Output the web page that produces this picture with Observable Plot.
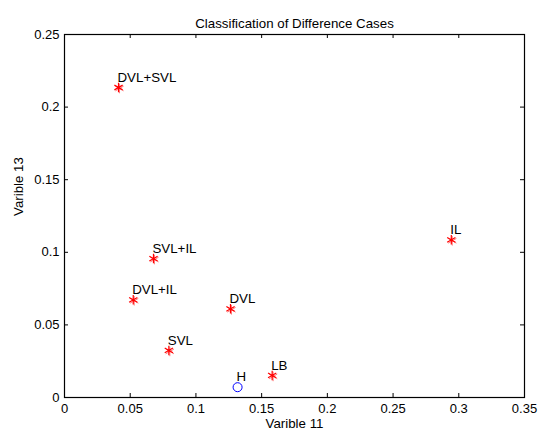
<!DOCTYPE html>
<html>
<head>
<meta charset="utf-8">
<script src="https://cdn.jsdelivr.net/npm/d3@7"></script>
<script src="https://cdn.jsdelivr.net/npm/@observablehq/plot@0.6"></script>
<style>
  html, body { margin: 0; padding: 0; background: #fff; }
</style>
</head>
<body>
<div id="chart"></div>
<script>
const labels = ["DVL+SVL", "SVL+IL", "DVL+IL", "DVL", "SVL", "LB", "IL", "H"];
const var11  = [0.0411, 0.0677, 0.0523, 0.1263, 0.0794, 0.1580, 0.2943, 0.1317];
const var13  = [0.2135, 0.0957, 0.0673, 0.0611, 0.0324, 0.0152, 0.1086, 0.0071];
const kinds  = ["fault", "fault", "fault", "fault", "fault", "fault", "fault", "healthy"];
const xTicks = [0, 0.05, 0.1, 0.15, 0.2, 0.25, 0.3, 0.35];
const yTicks = [0, 0.05, 0.1, 0.15, 0.2, 0.25];
const title = "Classification of Difference Cases";
const xLabel = "Varible 11";
const yLabel = "Varible 13";

const data = labels.map((l, i) => ({label: l, x: var11[i], y: var13[i], kind: kinds[i]}));
const faults = data.filter(d => d.kind === "fault");
const healthy = data.filter(d => d.kind === "healthy");

const W = 541, H = 435;
const mL = 64, mR = 17, mT = 34, mB = 38;
const frameH = H - mT - mB;
const frameW = W - mL - mR;
const tl = 4;
const font = "Liberation Sans, Arial, sans-serif";

const chart = Plot.plot({
  width: W,
  height: H,
  marginLeft: mL,
  marginRight: mR,
  marginTop: mT,
  marginBottom: mB,
  style: {fontFamily: font, fontSize: "13px", color: "#000", background: "#fff"},
  x: {domain: [0, 0.35], ticks: xTicks, label: null},
  y: {domain: [0, 0.25], ticks: yTicks, label: null},
  marks: [
    Plot.axisX(xTicks, {anchor: "bottom", tickSize: 0, tickPadding: 6, fontSize: 13, fill: "#000", tickFormat: d => String(d)}),
    Plot.axisY(yTicks, {anchor: "left", tickSize: 0, tickPadding: 5, fontSize: 13, fill: "#000", tickFormat: d => String(d)}),
    Plot.tickX(xTicks, {x: d => d, insetTop: frameH - tl, stroke: "#000", strokeWidth: 1}),
    Plot.tickX(xTicks, {x: d => d, insetBottom: frameH - tl, stroke: "#000", strokeWidth: 1}),
    Plot.tickY(yTicks, {y: d => d, insetRight: frameW - tl, stroke: "#000", strokeWidth: 1}),
    Plot.tickY(yTicks, {y: d => d, insetLeft: frameW - tl, stroke: "#000", strokeWidth: 1}),
    Plot.frame({stroke: "#000", strokeWidth: 1.2}),
    Plot.dot(faults, {x: "x", y: "y", symbol: "asterisk", r: 4.5, stroke: "#ff0000", strokeWidth: 1.2}),
    Plot.dot(faults, {x: "x", y: "y", symbol: "asterisk", r: 4.5, stroke: "#ff0000", strokeWidth: 1, dx: 1, dy: 1, strokeOpacity: 0.5}),
    Plot.dot(healthy, {x: "x", y: "y", symbol: "circle", r: 4.5, stroke: "#0000ff", strokeWidth: 1, fill: "none"}),
    Plot.text(data, {x: "x", y: "y", text: "label", textAnchor: "start", dx: -1, dy: -10, fontSize: 13.3, fill: "#000"}),
    Plot.text([title], {frameAnchor: "top", dy: -16, fontSize: 13.3, fill: "#000"}),
    Plot.text([xLabel], {frameAnchor: "bottom", dy: 30, fontSize: 13.3, fill: "#000"}),
    Plot.text([yLabel], {frameAnchor: "left", dx: -46, rotate: -90, fontSize: 13.3, fill: "#000"})
  ]
});
document.getElementById("chart").appendChild(chart);
</script>
</body>
</html>
